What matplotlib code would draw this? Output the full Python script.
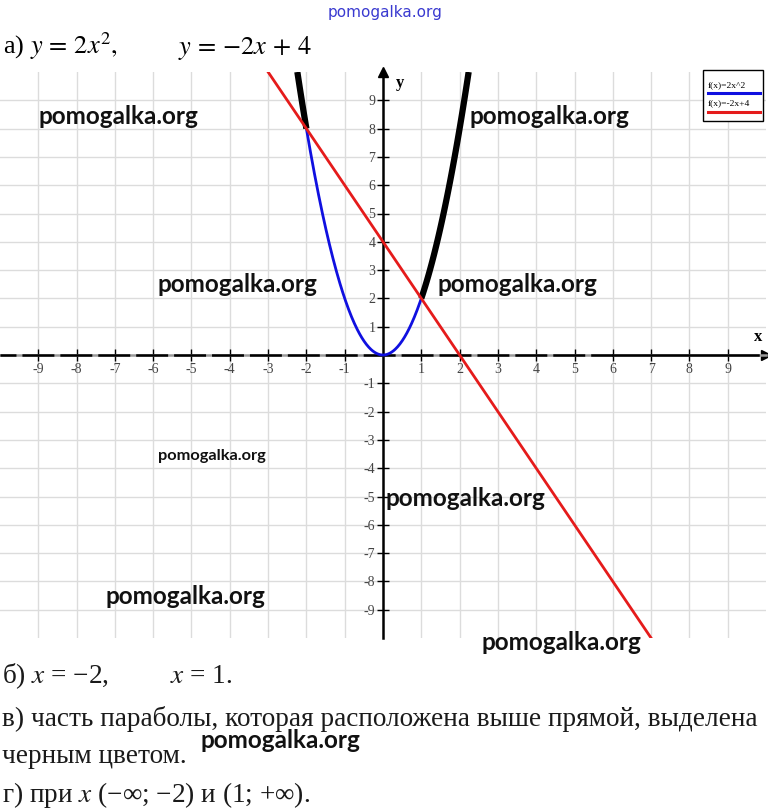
import numpy as np
import matplotlib
matplotlib.use("Agg")
import matplotlib.pyplot as plt
from matplotlib.patches import Rectangle

# functions from the task: y = a*x^2 and y = k*x + b
PARAB_A = 2
LINE_K = -2
LINE_B = 4
CROSS_X = [-2, 1]          # intersection points
X_RANGE = (-10, 10)
Y_RANGE = (-10, 10)
TICKS = [t for t in range(-9, 10) if t != 0]

WATERMARKS = [  # (x px, y px, size)
    (118, 116, 17.5), (549, 116, 17.5), (237, 284, 17.5), (517, 284, 17.5),
    (212, 456, 11.8), (465, 499, 17.5), (185, 596, 17.5), (561, 643, 17.5),
    (280, 740, 17.5),
]

W, H = 768, 809
plt.rcParams["axes.unicode_minus"] = False
plt.rcParams["lines.scale_dashes"] = False
plt.rcParams["mathtext.fontset"] = "stix"
plt.rcParams["font.family"] = ["Liberation Serif", "DejaVu Serif"]

fig = plt.figure(figsize=(W / 100, H / 100), dpi=100)


def fx(x):
    return x / W


def fy(y):
    return 1 - y / H


ax = fig.add_axes([0, fy(638), fx(766), fy(72) - fy(638)])
ax.set_xlim(*X_RANGE)
ax.set_ylim(*Y_RANGE)

# grid
ax.set_xticks(TICKS)
ax.set_yticks(TICKS)
ax.grid(True, color="#dcdcdc", lw=1.0)
for s in ["top", "right"]:
    ax.spines[s].set_visible(False)
ax.spines["left"].set_position("zero")
ax.spines["bottom"].set_position("zero")
ax.spines["left"].set_linewidth(1.8)
ax.spines["bottom"].set_color("#9a9a9a")
ax.spines["bottom"].set_linewidth(1.8)
ax.tick_params(direction="inout", length=8, width=1.0, labelsize=10,
               labelcolor="#444444", pad=1.5)
ax.set_xticklabels([str(t) for t in TICKS])
ax.set_yticklabels([str(t) for t in TICKS])

# dashed look of the horizontal axis
ax.plot([-10, 6], [0, 0], color="black", lw=1.8, zorder=3,
        linestyle=(11.5, (23, 4.3)), solid_capstyle="butt")
ax.plot([6, 9.8], [0, 0], color="black", lw=1.8, zorder=3)

# arrows and axis names
ax.plot(1, 0, ">k", ms=7, transform=ax.get_yaxis_transform(), clip_on=False)
ax.plot(0, 1, "^k", ms=7, transform=ax.get_xaxis_transform(), clip_on=False)
ax.text(9.8, 0.35, "x", fontsize=12, fontweight="bold", ha="center", va="bottom")
ax.text(0.45, 9.6, "y", fontsize=12, fontweight="bold", ha="center", va="center")

# parabola: blue part between the intersections, thick black where above the line
xb = np.linspace(CROSS_X[0], CROSS_X[1], 200)
ax.plot(xb, PARAB_A * xb ** 2, color="#1010e0", lw=2.0, zorder=4)
xl = np.linspace(-np.sqrt(10 / PARAB_A), CROSS_X[0], 50)
xr = np.linspace(CROSS_X[1], np.sqrt(10 / PARAB_A), 100)
for xs in (xl, xr):
    ax.plot(xs, PARAB_A * xs ** 2, color="black", lw=4.5, zorder=4,
            solid_capstyle="butt")

# line
xline = np.linspace((10 - LINE_B) / LINE_K, (-10 - LINE_B) / LINE_K, 50)
ax.plot(xline, LINE_K * xline + LINE_B, color="#e51b1b", lw=2.0, zorder=5)

# legend box
fig.patches.append(Rectangle((fx(703), fy(121)), fx(763) - fx(703), fy(70) - fy(121),
                             transform=fig.transFigure, facecolor="white",
                             edgecolor="black", lw=1.0, zorder=10))
fig.text(fx(708), fy(85), "f(x)=2x^2", fontsize=6.8, va="center", zorder=11)
fig.lines.append(plt.Line2D([fx(708), fx(760)], [fy(93), fy(93)],
                            transform=fig.transFigure, color="#1010e0", lw=2.2, zorder=11))
fig.text(fx(708), fy(103), "f(x)=-2x+4", fontsize=6.8, va="center", zorder=11)
fig.lines.append(plt.Line2D([fx(708), fx(760)], [fy(112), fy(112)],
                            transform=fig.transFigure, color="#e51b1b", lw=2.2, zorder=11))

# title
fig.text(fx(3), fy(54), r"а) $y\,=\,2x^2,$", fontsize=19, va="baseline")
fig.text(fx(178), fy(54), r"$y\,=\,{-}2x\,+\,4$", fontsize=19, va="baseline")

# bottom answers
TXT = dict(fontsize=19.6, va="baseline", color="#1a1a1a")
fig.text(fx(2), fy(683), "б) $x$ = −2,", **TXT)
fig.text(fx(170), fy(683), "$x$ = 1.", **TXT)
fig.text(fx(2), fy(726),
         "в) часть параболы, которая расположена выше прямой, выделена", **TXT)
fig.text(fx(2), fy(763), "черным цветом.", **TXT)
fig.text(fx(2), fy(802), r"г) при $x$ (−∞; −2) и (1; +∞).", **TXT)

# watermarks
for x, y, s in WATERMARKS:
    fig.text(fx(x), fy(y), "pomogalka.org", fontsize=s, family="Lato",
             fontweight="bold", ha="center", va="center", color="#111111", zorder=20)
fig.text(fx(385), fy(12), "pomogalka.org", fontsize=11, family="DejaVu Sans",
         ha="center", va="center", color="#3a3ad0")

fig.savefig("out.png", dpi=100)
